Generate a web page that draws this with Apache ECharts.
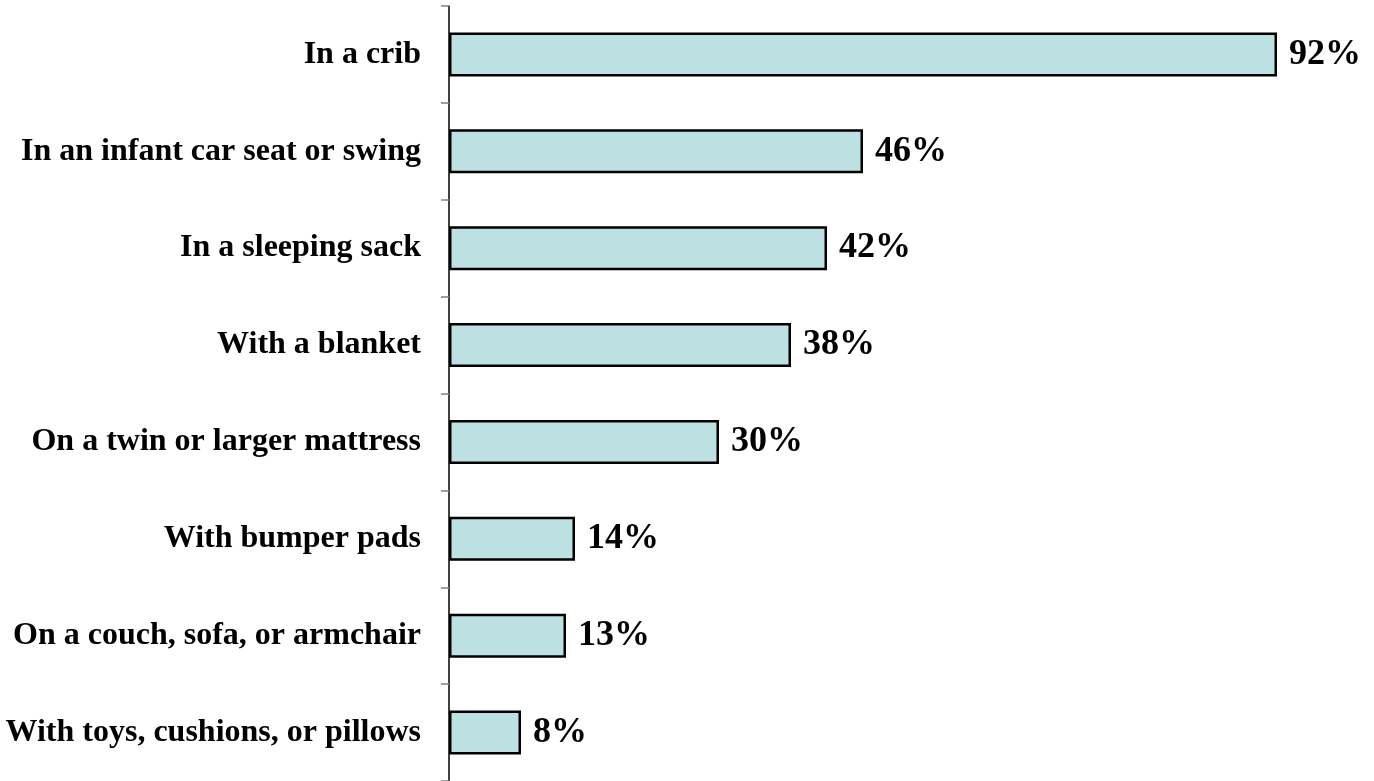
<!DOCTYPE html>
<html>
<head>
<meta charset="utf-8">
<script src="https://cdn.jsdelivr.net/npm/echarts@6/dist/echarts.min.js"></script>
<style>
  html, body { margin: 0; padding: 0; background: #ffffff; }
  #chart { width: 1374px; height: 781px; }
</style>
</head>
<body>
<div id="chart"></div>
<script>
// Where infants were placed to sleep (share of respondents, %)
const categories = [
  "In a crib",
  "In an infant car seat or swing",
  "In a sleeping sack",
  "With a blanket",
  "On a twin or larger mattress",
  "With bumper pads",
  "On a couch, sofa, or armchair",
  "With toys, cushions, or pillows"
];
const percentages = [92, 46, 42, 38, 30, 14, 13, 8];

const chart = echarts.init(document.getElementById('chart'));
const serif = '"Liberation Serif", "Times New Roman", serif';

chart.setOption({
  animation: false,
  grid: { left: 449, top: 6, width: 900, bottom: 0, containLabel: false },
  xAxis: {
    type: 'value',
    min: 0,
    max: 100,
    show: false
  },
  yAxis: {
    type: 'category',
    data: categories,
    inverse: true,
    axisLine: { show: true, lineStyle: { color: '#000000', width: 1.5 } },
    axisTick: { show: true, length: 8, inside: false, lineStyle: { color: '#808080', width: 1.5 } },
    axisLabel: {
      margin: 28,
      color: '#000000',
      fontFamily: serif,
      fontWeight: 'bold',
      fontSize: 32,
      padding: [4, 0, 0, 0]
    },
    splitLine: { show: false }
  },
  series: [{
    type: 'bar',
    data: percentages,
    barWidth: 44,
    itemStyle: {
      color: '#bde0e3',
      borderColor: '#000000',
      borderWidth: 2.5
    },
    label: {
      show: true,
      position: 'right',
      distance: 12,
      formatter: '{c}%',
      color: '#000000',
      fontFamily: serif,
      fontWeight: 'bold',
      fontSize: 36,
      padding: [5, 0, 0, 0]
    }
  }]
});
</script>
</body>
</html>
